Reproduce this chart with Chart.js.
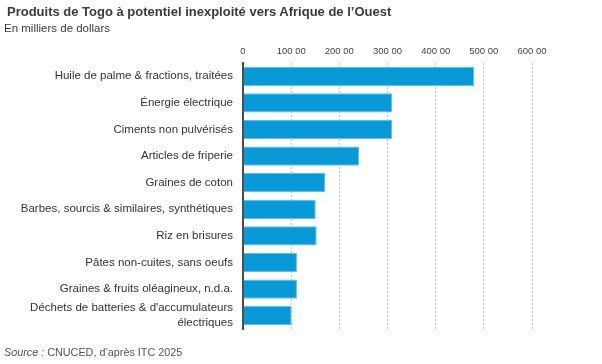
<!DOCTYPE html>
<html>
<head>
<meta charset="utf-8">
<script src="https://cdn.jsdelivr.net/npm/chart.js@4/dist/chart.umd.min.js"></script>
<style>
	html, body { margin: 0; padding: 0; background: #fff; }
	#wrap { position: relative; width: 602px; height: 364px; overflow: hidden; font-family: 'Liberation Sans', Arial, sans-serif; }
	#title { position: absolute; left: 7px; top: 4px; font-size: 13px; font-weight: bold; color: #3a3a3a; }
	#subtitle { position: absolute; left: 4px; top: 22px; font-size: 11.5px; color: #3a3a3a; }
	#source { position: absolute; left: 4px; top: 346px; font-size: 10.8px; color: #555; }
	canvas { position: absolute; left: 0; top: 0; }
</style>
</head>
<body>
<div id="wrap">
	<canvas id="chart" width="602" height="364"></canvas>
	<div id="title">Produits de Togo à potentiel inexploité vers Afrique de l’Ouest</div>
	<div id="subtitle">En milliers de dollars</div>
	<div id="source"><i>Source :</i> CNUCED, d’après ITC 2025</div>
</div>
<script>
const categories = [
	'Huile de palme & fractions, traitées',
	'Énergie électrique',
	'Ciments non pulvérisés',
	'Articles de friperie',
	'Graines de coton',
	'Barbes, sourcis & similaires, synthétiques',
	'Riz en brisures',
	'Pâtes non-cuites, sans oeufs',
	'Graines & fruits oléagineux, n.d.a.',
	["Déchets de batteries & d'accumulateurs", 'électriques']
];
const values = [480, 310, 310, 241, 171, 151, 153, 112, 112, 101];
const tickLabels = ['0', '100 00', '200 00', '300 00', '400 00', '500 00', '600 00'];

const font = "'Liberation Sans', Arial, sans-serif";
new Chart(document.getElementById('chart'), {
	type: 'bar',
	data: {
		labels: categories,
		datasets: [{
			data: values,
			backgroundColor: '#0899d6',
			borderColor: '#5cc0ea',
			borderWidth: 1,
			barPercentage: 0.72,
			categoryPercentage: 1
		}]
	},
	options: {
		indexAxis: 'y',
		responsive: false,
		animation: false,
		layout: { padding: { left: 0, right: 70, top: 40, bottom: 35 } },
		plugins: {
			legend: { display: false },
			tooltip: { enabled: false }
		},
		scales: {
			x: {
				position: 'top',
				min: 0,
				max: 600,
				afterBuildTicks: (scale) => {
					scale.ticks = tickLabels.map((_, i) => ({ value: i * 100 }));
				},
				afterFit: (scale) => { scale.height = 23; },
				ticks: {
					callback: (v, i) => tickLabels[i],
					font: { family: font, size: 9.5 },
					color: '#444',
					padding: 6,
					maxRotation: 0,
					autoSkip: false
				},
				grid: {
					color: '#c4c4c4',
					lineWidth: 1,
					drawTicks: false,
					tickLength: 0
				},
				border: { display: false, dash: [2, 2] }
			},
			y: {
				afterFit: (scale) => { scale.width = 243; },
				ticks: {
					font: { family: font, size: 11.5, lineHeight: 1.3 },
					color: '#333',
					padding: 10,
					autoSkip: false
				},
				grid: { display: false, drawTicks: false },
				border: { display: true, color: '#4a4a4a', width: 2 }
			}
		}
	}
});
</script>
</body>
</html>
